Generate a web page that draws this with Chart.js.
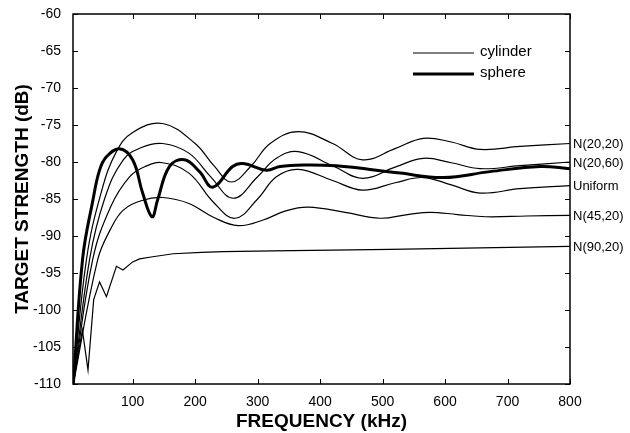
<!DOCTYPE html>
<html>
<head>
<meta charset="utf-8">
<script src="https://cdn.jsdelivr.net/npm/chart.js@4/dist/chart.umd.min.js"></script>
<style>
  html, body { margin: 0; padding: 0; background: #fff; }
</style>
</head>
<body>
<canvas id="tsChart" width="630" height="433"></canvas>
<script>
// frequency ticks (kHz) and dB ticks
const xTicks = [100, 200, 300, 400, 500, 600, 700, 800]
const yTicks = [-110, -105, -100, -95, -90, -85, -80, -75, -70, -65, -60]

// cylinder N(20,20)
const freqA = [5, 26, 50, 74, 100, 148, 200, 230, 258, 290, 320, 365, 420, 468, 520, 565, 610, 656, 720, 800]
const tsA = [-110, -93.2, -84, -78.6, -76, -74.8, -77.5, -80.5, -82.7, -80.5, -77.5, -75.9, -77.5, -79.7, -78.2, -76.8, -77.3, -78.3, -77.9, -77.5]
// cylinder N(20,60)
const freqB = [5, 31, 55, 85, 115, 148, 190, 225, 261, 300, 330, 365, 420, 468, 520, 565, 610, 656, 720, 800]
const tsB = [-110, -93.2, -85, -79.7, -78, -77.5, -78.8, -82, -84.9, -82, -79.5, -78.6, -80.5, -82.2, -80.7, -79.5, -80.1, -80.9, -80.5, -80.0]
// cylinder Uniform
const freqC = [5, 36, 65, 95, 120, 148, 190, 230, 264, 300, 330, 365, 420, 468, 520, 565, 610, 656, 720, 800]
const tsC = [-110, -93.2, -86, -82, -80.6, -80.1, -81.5, -85.5, -87.6, -85, -82, -81.0, -82.5, -83.8, -82.8, -82.1, -83.1, -84.2, -83.6, -83.2]
// cylinder N(45,20)
const freqD = [5, 44, 65, 85, 115, 148, 190, 230, 269, 310, 345, 381, 440, 496, 540, 576, 620, 665, 730, 800]
const tsD = [-110, -93.2, -89, -86.5, -85.2, -84.8, -85.6, -87.5, -88.6, -87.8, -86.6, -86.1, -86.8, -87.6, -87.1, -86.8, -87.1, -87.4, -87.3, -87.2]
// cylinder N(90,20)
const freqE = [5, 19.5, 28.5, 37.6, 47, 58, 74, 84.5, 100, 111, 132, 165, 210, 245, 325, 512, 800]
const tsE = [-110, -102.7, -108.1, -98.6, -96.2, -98.2, -94.1, -94.6, -93.5, -93.1, -92.8, -92.4, -92.2, -92.1, -92.0, -91.8, -91.4]
// sphere
const freqS = [5, 20, 36.5, 47, 58, 79, 100, 116, 131, 140, 159, 183, 207, 228, 260, 277, 314, 336, 373, 426, 480, 528, 597, 672, 752, 800]
const tsS = [-110, -93, -85.1, -81.1, -79.3, -78.2, -79.7, -84.2, -87.4, -85.1, -80.6, -79.7, -81.3, -83.4, -80.6, -80.2, -81.1, -80.6, -80.4, -80.5, -81.0, -81.5, -82.1, -81.3, -80.6, -80.9]

const curveNames = ['N(20,20)', 'N(20,60)', 'Uniform', 'N(45,20)', 'N(90,20)']

const pts = (xs, ys) => xs.map((x, i) => ({ x: x, y: ys[i] }))

const thin = (xs, ys, name, smooth) => ({
    label: name,
    data: pts(xs, ys),
    borderColor: '#000',
    borderWidth: 1.2,
    pointRadius: 0,
    tension: smooth ? 0.4 : 0
})

const datasets = [
    thin(freqA, tsA, curveNames[0], true),
    thin(freqB, tsB, curveNames[1], true),
    thin(freqC, tsC, curveNames[2], true),
    thin(freqD, tsD, curveNames[3], true),
    thin(freqE, tsE, curveNames[4], false),
    {
        label: 'sphere',
        data: pts(freqS, tsS),
        borderColor: '#000',
        borderWidth: 3,
        pointRadius: 0,
        tension: 0.4
    }
]

// box, inward ticks, legend and curve labels
const frame = {
    id: 'frame',
    afterDatasetsDraw(chart) {
        const c = chart.ctx
        const a = chart.chartArea
        const xs = chart.scales.x, ys = chart.scales.y
        c.save()
        c.strokeStyle = '#000'
        c.lineWidth = 1.5
        c.strokeRect(a.left, a.top, a.right - a.left, a.bottom - a.top)
        c.lineWidth = 1
        c.beginPath()
        xTicks.forEach(v => {
            const p = Math.round(xs.getPixelForValue(v)) + 0.5
            c.moveTo(p, a.bottom); c.lineTo(p, a.bottom - 5)
            c.moveTo(p, a.top); c.lineTo(p, a.top + 5)
        })
        yTicks.forEach(v => {
            const p = Math.round(ys.getPixelForValue(v)) + 0.5
            c.moveTo(a.left, p); c.lineTo(a.left + 5, p)
            c.moveTo(a.right, p); c.lineTo(a.right - 5, p)
        })
        c.stroke()

        // legend
        c.font = '15px "Liberation Sans", Arial, sans-serif'
        c.fillStyle = '#000'
        c.textBaseline = 'middle'
        c.textAlign = 'left'
        c.lineWidth = 1.2
        c.beginPath(); c.moveTo(413, 53); c.lineTo(474, 53); c.stroke()
        c.fillText('cylinder', 480, 52)
        c.lineWidth = 3
        c.beginPath(); c.moveTo(413, 74); c.lineTo(474, 74); c.stroke()
        c.fillText('sphere', 480, 73)

        // right side curve labels
        c.font = '13px "Liberation Sans", Arial, sans-serif'
        const ends = [tsA, tsB, tsC, tsD, tsE].map(s => s[s.length - 1])
        ends.forEach((v, i) => {
            c.fillText(curveNames[i], a.right + 3, ys.getPixelForValue(v) + 1)
        })
        c.restore()
    }
}

const ctx = document.getElementById('tsChart').getContext('2d')
const tsChart = new Chart(ctx, {
    type: 'line',
    data: { datasets: datasets },
    options: {
        responsive: false,
        animation: false,
        events: [],
        layout: { padding: { left: 11, right: 60, top: 14, bottom: 0 } },
        plugins: { legend: { display: false }, tooltip: { enabled: false } },
        scales: {
            x: {
                type: 'linear',
                min: 4.5,
                max: 800,
                afterBuildTicks: s => { s.ticks = xTicks.map(v => ({ value: v })) },
                afterFit: s => { s.height = 49 },
                grid: { display: false },
                border: { display: false },
                ticks: {
                    color: '#000',
                    font: { family: '"Liberation Sans", Arial, sans-serif', size: 14 },
                    padding: 2,
                    maxRotation: 0
                },
                title: {
                    display: true,
                    text: 'FREQUENCY (kHz)',
                    color: '#000',
                    font: { family: '"Liberation Sans", Arial, sans-serif', size: 19, weight: 'bold' },
                    padding: { top: 0, bottom: 0 }
                }
            },
            y: {
                min: -110,
                max: -60,
                afterBuildTicks: s => { s.ticks = yTicks.map(v => ({ value: v })) },
                afterFit: s => { s.width = 62 },
                grid: { display: false },
                border: { display: false },
                ticks: {
                    color: '#000',
                    font: { family: '"Liberation Sans", Arial, sans-serif', size: 14 },
                    padding: 4
                },
                title: {
                    display: true,
                    text: 'TARGET STRENGTH (dB)',
                    color: '#000',
                    font: { family: '"Liberation Sans", Arial, sans-serif', size: 19, weight: 'bold' },
                    padding: { top: 0, bottom: 0 }
                }
            }
        }
    },
    plugins: [frame]
})
</script>
</body>
</html>
